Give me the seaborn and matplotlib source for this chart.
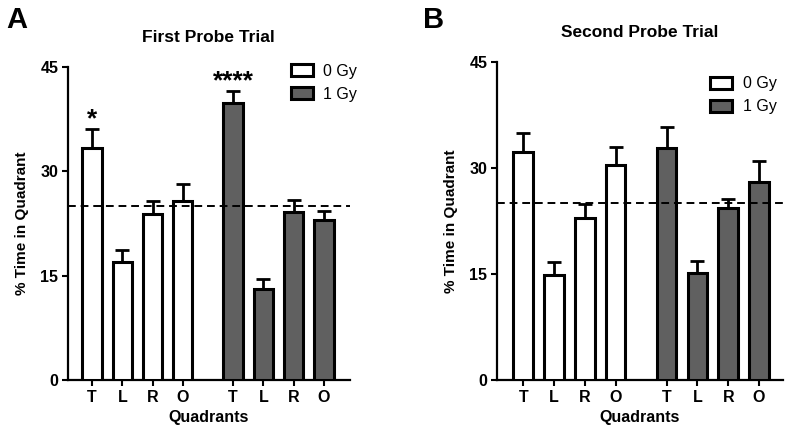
import numpy as np
import pandas as pd
import seaborn as sns
import matplotlib.pyplot as plt
from matplotlib.patches import Patch

# data (mean % time, upper SEM)
quadrants = ['T', 'L', 'R', 'O']
doses = ['0 Gy', '1 Gy']

first_0gy = [33.3, 17.0, 23.9, 25.7]
first_0gy_sem = [2.8, 1.7, 1.8, 2.5]
first_1gy = [39.8, 13.1, 24.1, 23.0]
first_1gy_sem = [1.7, 1.4, 1.8, 1.3]

second_0gy = [32.2, 14.9, 22.9, 30.4]
second_0gy_sem = [2.7, 1.8, 2.0, 2.6]
second_1gy = [32.8, 15.2, 24.3, 28.0]
second_1gy_sem = [3.0, 1.6, 1.3, 3.0]

first_stars = {('0 Gy', 'T'): '*', ('1 Gy', 'T'): '****'}
chance = 25

colors = {'0 Gy': 'white', '1 Gy': '#606060'}


def build_frame(vals0, sem0, vals1, sem1):
    rows = []
    group_gap = 4.65
    for g, (vals, sems) in enumerate([(vals0, sem0), (vals1, sem1)]):
        for i, q in enumerate(quadrants):
            rows.append({'pos': i + g * group_gap, 'quadrant': q,
                         'dose': doses[g], 'value': vals[i], 'sem': sems[i]})
    return pd.DataFrame(rows)


def draw_panel(ax, df, title, letter, xlim, stars=None, legend_anchor=None):
    sns.barplot(data=df, x='pos', y='value', hue='dose', native_scale=True,
                dodge=False, palette=colors, edgecolor='black', linewidth=2.2,
                width=0.63, legend=False, ax=ax, zorder=3)
    ax.errorbar(df['pos'], df['value'], yerr=[np.zeros(len(df)), df['sem']],
                fmt='none', ecolor='black', elinewidth=2, capsize=5,
                capthick=2, zorder=2)
    ax.axhline(chance, color='black', ls=(0, (4, 2.5)), lw=1.4, zorder=4,
               clip_on=False)

    if stars:
        for _, r in df.iterrows():
            s = stars.get((r['dose'], r['quadrant']))
            if s:
                ax.text(r['pos'], r['value'] + r['sem'] - 0.3, s,
                        ha='center', va='bottom', fontsize=19,
                        fontweight='bold')

    ax.set_xlim(*xlim)
    ax.set_ylim(0, 45)
    ax.set_yticks([0, 15, 30, 45])
    ax.set_xticks(df['pos'])
    ax.set_xticklabels(df['quadrant'])
    sns.despine(ax=ax)
    ax.spines['left'].set_linewidth(1.6)
    ax.spines['bottom'].set_linewidth(1.6)
    ax.tick_params(axis='both', width=1.5, length=4, labelsize=11.5, pad=3)
    for lab in ax.get_xticklabels() + ax.get_yticklabels():
        lab.set_fontweight('bold')

    ax.set_xlabel('Quadrants', fontsize=11.5, fontweight='bold', labelpad=4)
    ax.set_ylabel('% Time in Quadrant', fontsize=11, fontweight='bold',
                  labelpad=8)
    ax.set_title(title, fontsize=12.5, fontweight='bold', pad=18)

    handles = [Patch(facecolor=colors[d], edgecolor='black', linewidth=2.2,
                     label=d) for d in doses]
    ax.legend(handles=handles, loc='upper left', bbox_to_anchor=legend_anchor,
              bbox_transform=ax.figure.transFigure, frameon=False,
              fontsize=11.5, handlelength=1.4, handleheight=0.72,
              labelspacing=0.5, handletextpad=0.65, borderpad=0)
    ax.figure.text(ax.get_position().x0 - 0.078 if letter == 'A' else 0.537,
                   0.985, letter, fontsize=21, fontweight='bold', va='top')


sns.set_style('ticks')
plt.rcParams['font.family'] = ['Liberation Sans', 'DejaVu Sans']
plt.rcParams.update({'text.color': 'black', 'axes.labelcolor': 'black',
                     'axes.edgecolor': 'black', 'xtick.color': 'black',
                     'ytick.color': 'black'})

fig = plt.figure(figsize=(7.87, 4.25), dpi=100)
ax_a = fig.add_axes([0.0864, 0.106, 0.358, 0.736])
ax_b = fig.add_axes([0.6315, 0.106, 0.3635, 0.748])

df_first = build_frame(first_0gy, first_0gy_sem, first_1gy, first_1gy_sem)
df_second = build_frame(second_0gy, second_0gy_sem, second_1gy, second_1gy_sem)

draw_panel(ax_a, df_first, 'First Probe Trial', 'A', (-0.79, 8.5),
           stars=first_stars, legend_anchor=(0.359, 0.869))
draw_panel(ax_b, df_second, 'Second Probe Trial', 'B', (-0.85, 8.43),
           legend_anchor=(0.892, 0.839))

fig.savefig('out.png', dpi=100)
